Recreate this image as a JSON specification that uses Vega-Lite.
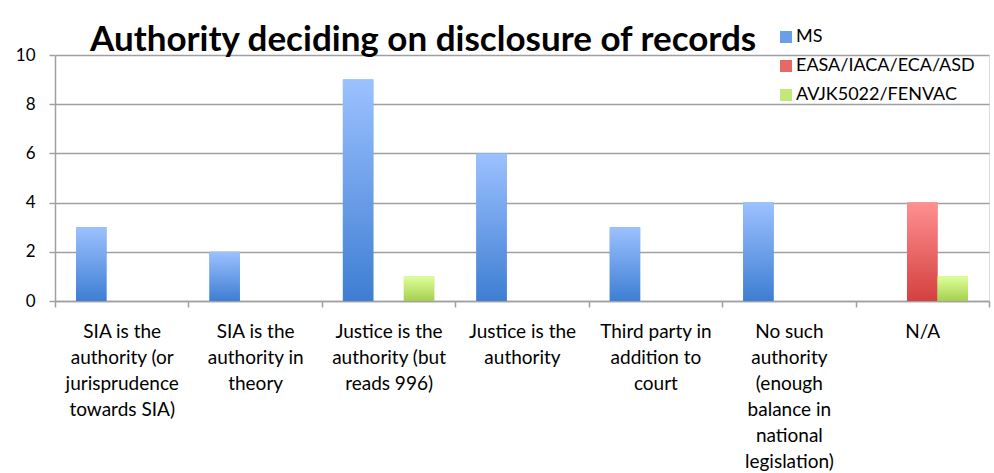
{
  "$schema": "https://vega.github.io/schema/vega-lite/v6.json",
  "width": 934,
  "height": 246,
  "autosize": "none",
  "padding": {"left": 55, "top": 55, "right": 5, "bottom": 172},
  "background": "white",
  "title": {
    "text": "Authority deciding on disclosure of records",
    "anchor": "start",
    "frame": "group",
    "dx": 35,
    "offset": -30,
    "font": "Lato",
    "fontSize": 35,
    "fontWeight": "bold",
    "color": "#000000"
  },
  "data": {
    "values": [
      {"category": "SIA is the|authority (or|jurisprudence|towards SIA)", "series": "MS", "value": 3},
      {"category": "SIA is the|authority in|theory", "series": "MS", "value": 2},
      {"category": "Justice is the|authority (but|reads 996)", "series": "MS", "value": 9},
      {"category": "Justice is the|authority (but|reads 996)", "series": "AVJK5022/FENVAC", "value": 1},
      {"category": "Justice is the|authority", "series": "MS", "value": 6},
      {"category": "Third party in|addition to|court", "series": "MS", "value": 3},
      {"category": "No such|authority|(enough|balance in|national|legislation)", "series": "MS", "value": 4},
      {"category": "N/A", "series": "EASA/IACA/ECA/ASD", "value": 4},
      {"category": "N/A", "series": "AVJK5022/FENVAC", "value": 1}
    ]
  },
  "encoding": {
    "x": {
      "field": "category",
      "type": "nominal",
      "sort": null,
      "scale": {
        "domain": [
          "SIA is the|authority (or|jurisprudence|towards SIA)",
          "SIA is the|authority in|theory",
          "Justice is the|authority (but|reads 996)",
          "Justice is the|authority",
          "Third party in|addition to|court",
          "No such|authority|(enough|balance in|national|legislation)",
          "N/A"
        ],
        "paddingInner": 0,
        "paddingOuter": 0
      },
      "axis": {
        "title": null,
        "labelExpr": "split(datum.label, '|')",
        "labelAngle": 0,
        "labelFont": "Lato",
        "labelFontSize": 19,
        "labelLineHeight": 26,
        "labelColor": "#000000",
        "labelPadding": 15,
        "labelOverlap": false,
        "labelBound": false,
        "labelLimit": 0,
        "tickBand": "extent",
        "ticks": true,
        "tickSize": 6,
        "tickColor": "#a0a0a0",
        "tickWidth": 1.5,
        "domainColor": "#a0a0a0",
        "domainWidth": 1.5,
        "grid": false
      }
    },
    "xOffset": {
      "field": "series",
      "type": "nominal",
      "scale": {
        "domain": ["MS", "EASA/IACA/ECA/ASD", "AVJK5022/FENVAC"],
        "paddingInner": 0,
        "paddingOuter": 0.69
      }
    },
    "y": {
      "field": "value",
      "type": "quantitative",
      "scale": {"domain": [0, 10], "nice": false},
      "axis": {
        "title": null,
        "values": [0, 2, 4, 6, 8, 10],
        "labelFont": "Lato",
        "labelFontSize": 17,
        "labelColor": "#000000",
        "labelPadding": 14,
        "tickSize": 6,
        "tickColor": "#a0a0a0",
        "tickWidth": 1.5,
        "domainColor": "#a0a0a0",
        "domainWidth": 1.5,
        "grid": true,
        "gridColor": "#a0a0a0",
        "gridWidth": 1.5
      }
    }
  },
  "layer": [
    {
      "mark": {"type": "bar"},
      "encoding": {
        "color": {
          "field": "series",
          "type": "nominal",
          "scale": {
            "domain": ["MS", "EASA/IACA/ECA/ASD", "AVJK5022/FENVAC"],
            "range": ["#6a9fe8", "#e86868", "#c2e878"]
          },
          "legend": {
            "title": null,
            "orient": "none",
            "legendX": 722,
            "legendY": -27,
            "padding": 0,
            "symbolType": "square",
            "symbolSize": 144,
            "symbolStrokeWidth": 0,
            "labelFont": "Lato",
            "labelFontSize": 18,
            "labelColor": "#000000",
            "labelOffset": 1,
            "rowPadding": 11,
            "labelLimit": 0
          }
        }
      }
    },
    {
      "transform": [{"filter": "datum.series === 'MS'"}],
      "mark": {
        "type": "bar",
        "color": {
          "gradient": "linear", "x1": 0, "y1": 0, "x2": 0, "y2": 1,
          "stops": [{"offset": 0, "color": "#9cc1ff"}, {"offset": 1, "color": "#3e7ed3"}]
        }
      }
    },
    {
      "transform": [{"filter": "datum.series === 'EASA/IACA/ECA/ASD'"}],
      "mark": {
        "type": "bar",
        "color": {
          "gradient": "linear", "x1": 0, "y1": 0, "x2": 0, "y2": 1,
          "stops": [{"offset": 0, "color": "#ff9090"}, {"offset": 1, "color": "#d44040"}]
        }
      }
    },
    {
      "transform": [{"filter": "datum.series === 'AVJK5022/FENVAC'"}],
      "mark": {
        "type": "bar",
        "color": {
          "gradient": "linear", "x1": 0, "y1": 0, "x2": 0, "y2": 1,
          "stops": [{"offset": 0, "color": "#ddff99"}, {"offset": 1, "color": "#a6d050"}]
        }
      }
    }
  ]
}
